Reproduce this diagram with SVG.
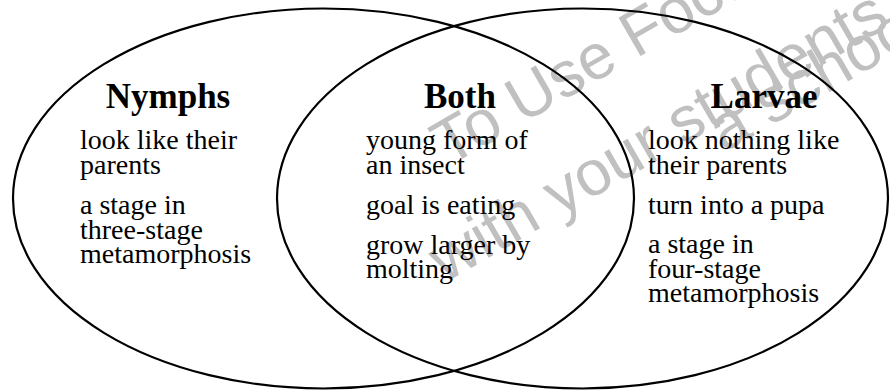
<svg xmlns="http://www.w3.org/2000/svg" width="890" height="391" viewBox="0 0 890 391">
<style>
.ring{fill:none;stroke:#000;stroke-width:2.2}
.h{font-family:"Liberation Serif",serif;font-weight:bold;font-size:35px;fill:#000;text-anchor:middle}
.t{font-family:"Liberation Serif",serif;font-size:28px;fill:#000}
.wm{font-family:"Liberation Sans",Arial,sans-serif;font-size:64px;fill:#c0c0c0}
</style>
<rect width="890" height="391" fill="#fff"/>
<g id="watermark">
<text class="wm" transform="translate(448,167) rotate(-30)">To Use Focus</text>
<text class="wm" transform="translate(445,283) rotate(-30)">with your students</text>
<text class="wm" transform="translate(724,153) rotate(-30)">a school</text>
</g>
<g id="connectors"></g>
<g id="nymphs">
<ellipse class="ring" cx="323.5" cy="198.5" rx="310.5" ry="190"/>
<text class="h" x="168" y="108">Nymphs</text>
<text class="t" x="80" y="149">look like their</text>
<text class="t" x="80" y="173.5">parents</text>
<text class="t" x="80" y="214">a stage in</text>
<text class="t" x="80" y="238.5">three-stage</text>
<text class="t" x="80" y="263">metamorphosis</text>
</g>
<g id="larvae">
<ellipse class="ring" cx="582.5" cy="198.5" rx="305.5" ry="190"/>
<text class="h" x="764" y="108">Larvae</text>
<text class="t" x="648" y="149">look nothing like</text>
<text class="t" x="648" y="173.5">their parents</text>
<text class="t" x="648" y="214">turn into a pupa</text>
<text class="t" x="648" y="253">a stage in</text>
<text class="t" x="648" y="277.5">four-stage</text>
<text class="t" x="648" y="302">metamorphosis</text>
</g>
<g id="both">
<text class="h" x="460" y="108">Both</text>
<text class="t" x="366" y="149">young form of</text>
<text class="t" x="366" y="173.5">an insect</text>
<text class="t" x="366" y="214">goal is eating</text>
<text class="t" x="366" y="253.5">grow larger by</text>
<text class="t" x="366" y="278">molting</text>
</g>
</svg>
